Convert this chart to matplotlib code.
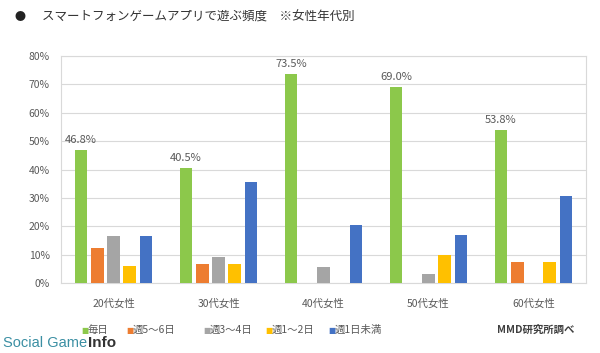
import matplotlib
matplotlib.use("Agg")
import matplotlib.pyplot as plt
import numpy as np

plt.rcParams['font.family'] = ['Noto Sans CJK JP', 'DejaVu Sans']

categories = ["20代女性", "30代女性", "40代女性", "50代女性", "60代女性"]
series_names = ["毎日", "週5～6日", "週3～4日", "週1～2日", "週1日未満"]
daily = [46.8, 40.5, 73.5, 69.0, 53.8]
d5_6 = [12.4, 6.7, 0.0, 0.0, 7.4]
d3_4 = [16.5, 9.2, 5.6, 3.2, 0.0]
d1_2 = [6.0, 6.7, 0.0, 9.9, 7.4]
less1 = [16.5, 35.5, 20.4, 16.9, 30.6]
yticks = [0, 10, 20, 30, 40, 50, 60, 70, 80]
colors = ["#8CC84B", "#ED7D31", "#A5A5A5", "#FFC000", "#4472C4"]

series = [daily, d5_6, d3_4, d1_2, less1]
txt = "#595959"

fig = plt.figure(figsize=(6.0, 3.53), dpi=100)
ax = fig.add_axes([61/600, 1-283/353, 525/600, 227/353])

x = np.arange(len(categories))
stride = 0.155
width = 0.12
for i, (vals, c) in enumerate(zip(series, colors)):
    ax.bar(x + (i - 2) * stride, vals, width=width, color=c, zorder=3)

for xi, v in zip(x, daily):
    ax.annotate(f"{v:.1f}%", (xi - 2 * stride, v), xytext=(0, 4),
                textcoords="offset points", ha="center", va="bottom",
                fontsize=8, color=txt)

ax.set_xlim(-0.5, len(categories) - 0.5)
ax.set_ylim(0, 80)
ax.set_yticks(yticks)
ax.set_yticklabels([f"{t}%" for t in yticks], fontsize=7.5, color=txt)
ax.set_xticks(x)
ax.set_xticklabels(categories, fontsize=7.5, color=txt)
ax.tick_params(axis='y', length=0, pad=8)
ax.tick_params(axis='x', length=0, pad=11)
ax.grid(axis='y', color="#D9D9D9", linewidth=0.8, zorder=0)
for s in ax.spines.values():
    s.set_color("#D9D9D9")
    s.set_linewidth(0.8)

fig.text(20/600, 1-17/353, "●", fontsize=8, color="#222222", va="center", ha="center")
fig.text(42/600, 1-17/353, "スマートフォンゲームアプリで遊ぶ頻度　※女性年代別",
         fontsize=9, color="#333333", va="center")

# legend entries (layout positions along the bottom row)
leg_x = [81, 126, 203, 265, 328]
leg_y = 1 - 330/353
for lx, name, c in zip(leg_x, series_names, colors):
    fig.text(lx/600, leg_y, "■", fontsize=5.5, family="DejaVu Sans", color=c,
             va="center", ha="left")
    fig.text((lx + 7)/600, leg_y, name, fontsize=7.5, color=txt, va="center", ha="left")
fig.text(497/600, leg_y, "MMD研究所調べ", fontsize=7.5, fontweight="bold",
         color="#404040", va="center")

# watermark
wm = fig.text(3/600, 1-343/353, "Social Game", fontsize=10.5,
              family=["Liberation Sans", "DejaVu Sans"],
              color="#3B8FA3", va="center")
fig.canvas.draw()
bb = wm.get_window_extent()
fig.text((bb.x1 + 1)/600, 1-343/353, "Info", fontsize=11, fontweight="bold",
         family=["Liberation Sans", "DejaVu Sans"],
         color="#333333", va="center")

fig.savefig("out.png", dpi=100)
